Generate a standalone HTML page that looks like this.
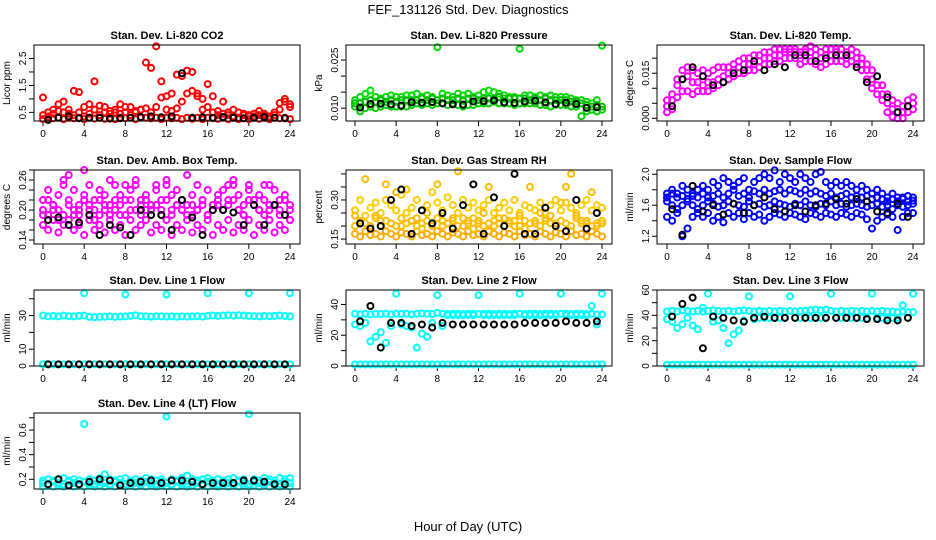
<!DOCTYPE html>
<html><head><meta charset="utf-8">
<style>
body{margin:0;background:#fff;}
svg{display:block;font-family:"Liberation Sans",sans-serif;}
</style></head>
<body>
<svg id="chart" width="936" height="540" viewBox="0 0 936 540" xmlns="http://www.w3.org/2000/svg">
<rect width="936" height="540" fill="#fff"/>
<text x="468" y="14" font-size="13" text-anchor="middle">FEF_131126  Std. Dev. Diagnostics</text>
<text x="468" y="531" font-size="13" text-anchor="middle">Hour of Day (UTC)</text>
</svg>
<script>
const HH=[0,0.5,1,1.5,2,2.5,3,3.5,4,4.5,5,5.5,6,6.5,7,7.5,8,8.5,9,9.5,10,10.5,11,11.5,12,12.5,13,13.5,14,14.5,15,15.5,16,16.5,17,17.5,18,18.5,19,19.5,20,20.5,21,21.5,22,22.5,23,23.5,24];
const BH=[0.5,1.5,2.5,3.5,4.5,5.5,6.5,7.5,8.5,9.5,10.5,11.5,12.5,13.5,14.5,15.5,16.5,17.5,18.5,19.5,20.5,21.5,22.5,23.5];
const XTICKS=[0,4,8,12,16,20,24];

// CO2
const co2A=[0.25,0.3,0.28,0.3,0.25,0.3,0.28,0.3,0.25,0.3,0.27,0.3,0.26,0.3,0.25,0.3,0.28,0.3,0.25,0.3,0.3,0.28,0.3,0.25,0.3,0.28,0.3,0.25,0.3,0.26,0.3,0.25,0.3,0.28,0.26,0.3,0.25,0.3,0.25,0.28,0.25,0.3,0.26,0.3,0.25,0.3,0.28,0.3,0.25];
const co2B=[1.05,0.5,0.45,0.8,0.9,0.6,1.3,1.25,0.7,0.8,0.6,0.75,0.7,0.55,0.6,0.8,0.5,0.7,0.55,0.6,0.65,0.5,0.7,1.05,0.6,1.2,1.9,1.85,1.2,2.0,1.2,1.0,0.7,1.1,0.55,0.9,0.5,0.6,0.5,0.45,0.4,0.35,0.4,0.45,0.35,0.5,0.6,0.9,0.7];
const co2C=[0.4,0.35,0.6,0.55,0.5,0.45,0.4,0.5,0.35,0.45,1.65,0.4,0.5,0.45,0.5,0.45,0.7,0.4,0.5,0.6,2.35,2.15,2.95,1.65,1.1,0.55,0.65,0.9,2.05,1.3,1.1,0.6,1.55,0.5,0.4,0.45,0.4,0.35,0.3,0.4,0.35,0.45,0.55,0.4,0.3,0.4,0.85,1.0,0.8];
const co2K=[0.22,0.3,0.35,0.28,0.3,0.3,0.27,0.28,0.3,0.33,0.35,0.32,0.35,1.95,0.3,0.32,0.3,0.33,0.3,0.28,0.3,0.33,0.3,0.28];
// Pressure
const prA=[0.0105,0.009,0.01,0.0105,0.01,0.0105,0.011,0.0105,0.0105,0.0105,0.0105,0.011,0.0115,0.011,0.0115,0.011,0.0115,0.0115,0.011,0.0115,0.011,0.0105,0.011,0.011,0.0115,0.0115,0.0115,0.012,0.0115,0.0115,0.0115,0.011,0.0115,0.0115,0.0115,0.0115,0.011,0.011,0.0105,0.011,0.011,0.011,0.0105,0.0105,0.0075,0.009,0.0095,0.009,0.0095];
const prB=[0.0125,0.0135,0.0145,0.0155,0.0135,0.013,0.0135,0.014,0.0135,0.0135,0.014,0.014,0.0145,0.0135,0.014,0.0135,0.029,0.0145,0.014,0.0135,0.0145,0.014,0.0145,0.0135,0.014,0.015,0.0155,0.015,0.0145,0.014,0.0135,0.0135,0.0285,0.014,0.014,0.0135,0.014,0.0135,0.014,0.0135,0.0135,0.0135,0.013,0.0125,0.0125,0.012,0.0115,0.0125,0.0295];
const prC=[0.0115,0.0115,0.012,0.0125,0.012,0.0125,0.012,0.0125,0.012,0.0125,0.0125,0.0125,0.0125,0.013,0.0125,0.013,0.0125,0.013,0.0125,0.0125,0.013,0.0125,0.013,0.013,0.0125,0.013,0.013,0.013,0.0135,0.013,0.013,0.013,0.013,0.013,0.0125,0.013,0.0125,0.013,0.0125,0.0125,0.0125,0.0125,0.012,0.012,0.0115,0.011,0.0105,0.011,0.0105];
const prK=[0.0102,0.0113,0.0114,0.0112,0.0108,0.0118,0.0117,0.0119,0.0115,0.0112,0.0111,0.0121,0.0122,0.0124,0.0118,0.0116,0.0121,0.0123,0.0118,0.0113,0.0117,0.0113,0.0101,0.0103];
// Li-820 temp
const ltA=[0.004,0.006,0.011,0.013,0.014,0.012,0.012,0.011,0.012,0.012,0.013,0.014,0.015,0.016,0.017,0.018,0.018,0.018,0.019,0.02,0.02,0.021,0.021,0.022,0.022,0.022,0.021,0.022,0.022,0.021,0.020,0.021,0.021,0.022,0.021,0.020,0.021,0.020,0.018,0.016,0.013,0.011,0.008,0.005,0.003,0.002,0.002,0.004,0.005];
const ltB=[0.002,0.003,0.007,0.009,0.009,0.008,0.009,0.009,0.009,0.010,0.011,0.012,0.013,0.014,0.015,0.015,0.016,0.016,0.017,0.018,0.018,0.019,0.019,0.020,0.020,0.020,0.018,0.019,0.019,0.018,0.017,0.018,0.019,0.019,0.019,0.018,0.019,0.018,0.016,0.013,0.010,0.008,0.006,0.002,0.0005,0,0,0.002,0.003];
const ltC=[0.006,0.008,0.013,0.016,0.017,0.016,0.015,0.016,0.015,0.016,0.017,0.017,0.017,0.018,0.019,0.020,0.020,0.021,0.021,0.022,0.022,0.023,0.023,0.023,0.023,0.023,0.022,0.023,0.024,0.023,0.022,0.023,0.023,0.023,0.023,0.022,0.023,0.022,0.020,0.018,0.016,0.014,0.011,0.008,0.006,0.005,0.004,0.006,0.007];
const ltK=[0.004,0.013,0.017,0.014,0.011,0.012,0.015,0.016,0.019,0.016,0.018,0.017,0.021,0.021,0.019,0.020,0.021,0.021,0.017,0.012,0.014,0.007,0.002,0.004];
// Amb box temp
const btA=[0.22,0.24,0.21,0.23,0.25,0.22,0.24,0.21,0.23,0.25,0.22,0.24,0.23,0.21,0.25,0.23,0.22,0.24,0.25,0.22,0.23,0.21,0.24,0.22,0.25,0.23,0.24,0.22,0.21,0.23,0.25,0.22,0.24,0.21,0.23,0.24,0.22,0.25,0.23,0.21,0.24,0.22,0.23,0.25,0.21,0.24,0.22,0.23,0.21];
const btB=[0.17,0.16,0.18,0.155,0.17,0.18,0.16,0.17,0.15,0.18,0.16,0.17,0.155,0.18,0.16,0.17,0.15,0.18,0.16,0.17,0.18,0.155,0.17,0.16,0.18,0.15,0.17,0.16,0.18,0.155,0.17,0.16,0.18,0.15,0.17,0.16,0.18,0.155,0.17,0.16,0.18,0.15,0.17,0.16,0.18,0.155,0.17,0.16,0.18];
const btC=[0.2,0.19,0.21,0.2,0.26,0.27,0.19,0.2,0.28,0.21,0.2,0.19,0.21,0.26,0.2,0.19,0.25,0.2,0.26,0.21,0.2,0.19,0.25,0.2,0.26,0.19,0.21,0.2,0.27,0.19,0.2,0.21,0.19,0.2,0.21,0.2,0.25,0.26,0.2,0.19,0.25,0.21,0.2,0.19,0.25,0.21,0.2,0.19,0.18];
const btD=[0.19,0.22,0.2,0.18,0.19,0.21,0.2,0.19,0.22,0.2,0.18,0.22,0.2,0.19,0.22,0.21,0.19,0.22,0.2,0.19,0.22,0.2,0.21,0.19,0.22,0.2,0.21,0.22,0.19,0.21,0.2,0.22,0.19,0.21,0.22,0.2,0.21,0.22,0.2,0.19,0.22,0.21,0.2,0.22,0.2,0.21,0.19,0.22,0.2];
const btK=[0.18,0.185,0.17,0.175,0.19,0.15,0.17,0.165,0.15,0.2,0.19,0.19,0.16,0.22,0.185,0.15,0.2,0.2,0.195,0.17,0.21,0.17,0.21,0.19];
// RH
const rhA=[0.17,0.16,0.18,0.165,0.17,0.16,0.18,0.17,0.16,0.175,0.17,0.16,0.18,0.165,0.17,0.16,0.18,0.17,0.16,0.175,0.17,0.16,0.18,0.165,0.17,0.16,0.18,0.17,0.16,0.175,0.17,0.16,0.18,0.165,0.17,0.16,0.18,0.17,0.16,0.175,0.17,0.16,0.18,0.165,0.17,0.16,0.18,0.17,0.16];
const rhB=[0.2,0.22,0.21,0.19,0.23,0.2,0.22,0.21,0.2,0.23,0.21,0.22,0.2,0.19,0.22,0.21,0.23,0.2,0.21,0.22,0.2,0.23,0.21,0.19,0.22,0.2,0.21,0.22,0.23,0.2,0.21,0.22,0.2,0.19,0.21,0.22,0.2,0.23,0.21,0.2,0.22,0.21,0.2,0.23,0.21,0.22,0.2,0.21,0.22];
const rhC=[0.26,0.3,0.24,0.27,0.29,0.25,0.3,0.28,0.26,0.32,0.25,0.27,0.3,0.26,0.28,0.33,0.29,0.26,0.31,0.28,0.25,0.3,0.27,0.29,0.26,0.28,0.3,0.25,0.27,0.29,0.26,0.3,0.25,0.28,0.27,0.26,0.29,0.25,0.28,0.3,0.26,0.29,0.27,0.25,0.28,0.3,0.26,0.28,0.27];
const rhD=[0.24,0.21,0.38,0.2,0.24,0.22,0.36,0.21,0.33,0.2,0.34,0.22,0.23,0.21,0.25,0.2,0.36,0.22,0.21,0.23,0.41,0.2,0.22,0.23,0.21,0.25,0.35,0.2,0.21,0.23,0.22,0.2,0.24,0.22,0.35,0.21,0.25,0.22,0.24,0.21,0.29,0.35,0.4,0.24,0.22,0.21,0.33,0.2,0.21];
const rhK=[0.21,0.19,0.2,0.3,0.34,0.17,0.26,0.21,0.25,0.19,0.28,0.36,0.17,0.31,0.2,0.4,0.17,0.17,0.27,0.2,0.18,0.3,0.19,0.25];
// Sample flow
const sfA=[1.65,1.6,1.55,1.6,1.65,1.6,1.55,1.6,1.65,1.62,1.58,1.6,1.65,1.62,1.6,1.58,1.65,1.6,1.62,1.58,1.6,1.65,1.62,1.6,1.58,1.62,1.6,1.65,1.6,1.58,1.62,1.6,1.65,1.6,1.62,1.58,1.6,1.62,1.6,1.58,1.6,1.62,1.58,1.6,1.55,1.6,1.58,1.6,1.62];
const sfB=[1.75,1.8,1.75,1.85,1.8,1.75,1.8,1.85,1.8,1.9,1.85,1.95,1.9,1.85,1.9,1.95,1.8,1.9,1.95,2.0,1.95,2.05,1.9,2.0,1.95,1.9,2.0,1.95,1.9,2.0,2.03,1.9,1.85,1.9,1.85,1.9,1.85,1.8,1.85,1.8,1.75,1.8,1.75,1.7,1.75,1.7,1.7,1.72,1.7];
const sfC=[1.45,1.4,1.5,1.2,1.3,1.45,1.5,1.45,1.5,1.4,1.45,1.38,1.5,1.45,1.5,1.42,1.5,1.45,1.48,1.4,1.45,1.5,1.48,1.45,1.5,1.48,1.45,1.42,1.5,1.48,1.45,1.5,1.48,1.45,1.5,1.48,1.45,1.5,1.48,1.42,1.3,1.4,1.45,1.48,1.45,1.28,1.45,1.5,1.5];
const sfD=[1.7,1.75,1.7,1.72,1.68,1.72,1.7,1.75,1.7,1.72,1.75,1.7,1.75,1.8,1.72,1.75,1.7,1.78,1.75,1.8,1.75,1.78,1.8,1.75,1.8,1.78,1.75,1.8,1.75,1.78,1.75,1.72,1.75,1.7,1.72,1.75,1.7,1.72,1.7,1.72,1.68,1.7,1.68,1.65,1.68,1.65,1.68,1.65,1.66];
const sfK=[1.55,1.22,1.85,1.52,1.6,1.48,1.62,1.5,1.6,1.7,1.55,1.52,1.6,1.52,1.6,1.62,1.68,1.62,1.68,1.65,1.52,1.5,1.62,1.45];
// Line 1
const l1A=[30,29.5,29.8,29.5,30,29.6,29.5,29.8,30,29.2,29.0,29.2,29.3,29.5,29.2,29.4,29.5,29.8,30.2,29.6,29.5,29.3,29.6,29.5,29.4,29.5,29.3,29.5,29.4,29.5,29.6,29.4,29.8,30,29.8,30,30.2,30,30.2,30,29.8,29.6,29.5,29.8,29.6,29.8,30,29.7,29.5];
const l1Z=[1,1,1,1,1,1,1,1,1,1,1,1,1,1,1,1,1,1,1,1,1,1,1,1,1,1,1,1,1,1,1,1,1,1,1,1,1,1,1,1,1,1,1,1,1,1,1,1,1];
const outX=[4,8,12,16,20,24];
const l1Out=[43.3,42.5,42.5,43.3,43.3,43.3];
const l1K=[1,1,1,1,1,1,1,1,1,1,1,1,1,1,1,1,1,1,1,1,1,1,1,1];
// Line 2
const l2A=[34,33.5,34,33.5,34,33.8,34,33.5,34,33.8,34,33.5,34,34.2,34,33.8,34.5,34,33.8,34,34,33.8,34,34,33.8,34,34,33.8,34,34,33.8,34,34,33.8,34,34,33.8,34,34,33.8,34,34,33.8,34,34,33.8,34,33.5,33.5];
const l2B=[27,26,28,16,19,22,15,26,47,27,26,25,12,21,19,28,46,26,33,33,33,33,33,33,46,33,33,33,33,33,33,33,47,33,33,33,33,33,33,33,47,33,33,33,33,33,39,27,47];
const l2K=[29,39,12,28,28,26,27,25,28,27,27,27,27,27,27,27,28,28,28,28,29,28,28,29];
// Line 3
const l3A=[43,43.5,43,44,43.5,43,43.5,43,43.5,44,43.5,43,43.5,43,43.5,44,43.5,43,43.5,43,43.5,43,43.5,43,43.5,43,43.5,43.5,44,44.5,44,44.5,43.5,43,43.5,43,43.5,43,43.5,43,43.5,43,43.5,43,43,42.5,43,42.5,42.5];
const l3B=[37,35,30,33,38,32,29,46,57,35,36,30,18,25,28,36,55,37,38,38,38,38,38,38,55,38,38,38,38,38,38,38,57,38,38,38,38,38,38,38,57,38,38,38,38,38,48,38,57];
const l3K=[39,49,54,14,39,38,36,35,38,39,38,38,38,38,38,38,38,38,38,37,37,36,36,38];
// Line 4
const l4A=[0.17,0.16,0.18,0.17,0.16,0.18,0.17,0.16,0.18,0.17,0.16,0.18,0.17,0.16,0.18,0.17,0.16,0.18,0.17,0.16,0.18,0.17,0.16,0.18,0.17,0.16,0.18,0.17,0.16,0.18,0.17,0.16,0.18,0.17,0.16,0.18,0.17,0.16,0.18,0.17,0.16,0.18,0.17,0.16,0.18,0.17,0.16,0.18,0.17];
const l4B=[0.19,0.2,0.19,0.2,0.21,0.19,0.2,0.19,0.65,0.2,0.19,0.21,0.24,0.2,0.19,0.2,0.21,0.19,0.2,0.19,0.21,0.2,0.19,0.2,0.71,0.2,0.19,0.21,0.23,0.2,0.19,0.2,0.21,0.19,0.2,0.19,0.2,0.21,0.19,0.2,0.73,0.2,0.19,0.21,0.2,0.19,0.21,0.2,0.21];
const l4C=[0.14,0.15,0.14,0.15,0.14,0.15,0.14,0.15,0.14,0.15,0.14,0.15,0.14,0.15,0.14,0.15,0.14,0.15,0.14,0.15,0.14,0.15,0.14,0.15,0.14,0.15,0.14,0.15,0.14,0.15,0.14,0.15,0.14,0.15,0.14,0.15,0.14,0.15,0.14,0.15,0.14,0.15,0.14,0.15,0.14,0.15,0.14,0.15,0.14];
const l4K=[0.16,0.2,0.15,0.16,0.18,0.2,0.19,0.15,0.17,0.18,0.19,0.17,0.19,0.19,0.18,0.16,0.17,0.17,0.17,0.19,0.19,0.18,0.16,0.16];

const NS='http://www.w3.org/2000/svg';
const svg=document.getElementById('chart');
function el(tag,attrs,parent){const e=document.createElementNS(NS,tag);for(const k in attrs)e.setAttribute(k,attrs[k]);(parent||svg).appendChild(e);return e;}

const COLS=[[34,300,43,290],[346,612,355,602],[657,924,667,913]];
const ROWS=[[45,121],[170,244],[290,366],[413,489]];

function panel(name,title,ylabel,c,r,ymin,ymax,yTicks,yLabels,series){
  const [bl,br,x0,x24]=COLS[c];const [bt,bb]=ROWS[r];
  const g=el('g',{});
  
  
  const xs=h=>x0+(x24-x0)*h/24;
  const ys=v=>bb-(v-ymin)/(ymax-ymin)*(bb-bt);
  const t=el('text',{x:(bl+br)/2,y:bt-6,'font-size':11,'font-weight':'bold','text-anchor':'middle'},g);
  t.textContent=title;
  
  
  const yl=el('text',{x:0,y:0,'font-size':10,'text-anchor':'middle',transform:`translate(${bl-24},${(bt+bb)/2}) rotate(-90)`},g);
  yl.textContent=ylabel;
  
  
  XTICKS.forEach(h=>{
    el('line',{x1:xs(h),x2:xs(h),y1:bb,y2:bb+5,stroke:'#000','stroke-width':1},g);
    const tx=el('text',{x:xs(h),y:bb+16,'font-size':10,'text-anchor':'middle'},g);
    tx.textContent=h;
    
    
  });
  el('line',{x1:xs(0),x2:xs(24),y1:bb,y2:bb,stroke:'#000'},g);
  yTicks.forEach(v=>{
    el('line',{x1:bl-5,x2:bl,y1:ys(v),y2:ys(v),stroke:'#000','stroke-width':1},g);
  });
  yLabels.forEach(v=>{
    const ty=el('text',{x:0,y:0,'font-size':10,'text-anchor':'middle',transform:`translate(${bl-8},${ys(v)}) rotate(-90)`},g);
    ty.textContent=v;
    
    
  });
  series.forEach(s=>{
    const sg=el('g',{},g);
    
    
    s.y.forEach((v,i)=>{
      const cy=ys(v);if(cy<bt-1||cy>bb+1)return;
      const cc=el('circle',{cx:xs(s.x[i]),cy:cy,r:3,fill:'none',stroke:s.col,'stroke-width':2},sg);
      
      
    });
  });
  const box=el('rect',{x:bl,y:bt,width:br-bl,height:bb-bt,fill:'none',stroke:'#000','stroke-width':1},g);
  
  
}
const S=(name,x,y,col)=>({name,x,y,col});
panel('co2-panel','Stan. Dev. Li-820 CO2','Licor ppm',0,0,0.18,3.0,[0.5,1,1.5,2,2.5],['0.5','1.5','2.5'],
 [S('red-series-a',HH,co2A,'#ff0000'),S('red-series-b',HH,co2B,'#ff0000'),S('red-series-c',HH,co2C,'#ff0000'),S('black-series',BH,co2K,'#000')]);
panel('pressure-panel','Stan. Dev. Li-820 Pressure','kPa',1,0,0.006,0.0297,[0.01,0.015,0.02,0.025],['0.010','0.025'],
 [S('green-series-a',HH,prA,'#00cc00'),S('green-series-b',HH,prB,'#00dd00'),S('green-series-c',HH,prC,'#00bb00'),S('black-series',BH,prK,'#000')]);
panel('licor-temp-panel','Stan. Dev. Li-820 Temp.','degrees C',2,0,-0.0009,0.0244,[0,0.005,0.01,0.015,0.02],['0.000','0.015'],
 [S('magenta-series-a',HH,ltA,'#ff00ff'),S('magenta-series-b',HH,ltB,'#ff00ff'),S('magenta-series-c',HH,ltC,'#ff00ff'),S('black-series',BH,ltK,'#000')]);
panel('box-temp-panel','Stan. Dev. Amb. Box Temp.','degrees C',0,1,0.132,0.28,[0.14,0.16,0.18,0.2,0.22,0.24,0.26,0.28],['0.14','0.20','0.26'],
 [S('magenta-series-a',HH,btA,'#ff00ff'),S('magenta-series-b',HH,btB,'#ff00ff'),S('magenta-series-c',HH,btC,'#ff00ff'),S('magenta-series-d',HH,btD,'#ff00ff'),S('black-series',BH,btK,'#000')]);
panel('rh-panel','Stan. Dev. Gas Stream RH','percent',1,1,0.131,0.415,[0.15,0.2,0.25,0.3,0.35,0.4],['0.15','0.30'],
 [S('orange-series-a',HH,rhA,'#ffaa00'),S('orange-series-b',HH,rhB,'#ffc000'),S('orange-series-c',HH,rhC,'#ffcc00'),S('orange-series-d',HH,rhD,'#ffbb00'),S('black-series',BH,rhK,'#000')]);
panel('sample-flow-panel','Stan. Dev. Sample Flow','ml/min',2,1,1.1,2.055,[1.2,1.4,1.6,1.8,2.0],['1.2','1.6','2.0'],
 [S('blue-series-a',HH,sfA,'#0000ff'),S('blue-series-b',HH,sfB,'#0000ff'),S('blue-series-c',HH,sfC,'#0000ff'),S('blue-series-d',HH,sfD,'#0000ff'),S('black-series',BH,sfK,'#000')]);
panel('line1-panel','Stan. Dev. Line 1 Flow','ml/min',0,2,0,45.2,[0,10,20,30,40],['0','10','30'],
 [S('cyan-band',HH,l1A,'#00ffff'),S('cyan-zero',HH,l1Z,'#00ffff'),S('cyan-outliers',outX,l1Out,'#00ffff'),S('black-series',BH,l1K,'#000')]);
panel('line2-panel','Stan. Dev. Line 2 Flow','ml/min',1,2,0,49.4,[0,10,20,30,40],['0','20','40'],
 [S('cyan-band',HH,l2A,'#00ffff'),S('cyan-scatter',HH,l2B,'#00ffff'),S('cyan-zero',HH,l1Z,'#00ffff'),S('black-series',BH,l2K,'#000')]);
panel('line3-panel','Stan. Dev. Line 3 Flow','ml/min',2,2,0,60,[0,10,20,30,40,50,60],['0','20','40','60'],
 [S('cyan-band',HH,l3A,'#00ffff'),S('cyan-scatter',HH,l3B,'#00ffff'),S('cyan-zero',HH,l1Z,'#00ffff'),S('black-series',BH,l3K,'#000')]);
panel('line4-panel','Stan. Dev. Line 4 (LT) Flow','ml/min',0,3,0.121,0.739,[0.2,0.3,0.4,0.5,0.6,0.7],['0.2','0.4','0.6'],
 [S('cyan-series-a',HH,l4A,'#00ffff'),S('cyan-series-b',HH,l4B,'#00ffff'),S('cyan-series-c',HH,l4C,'#00ffff'),S('black-series',BH,l4K,'#000')]);
</script>
</body></html>
